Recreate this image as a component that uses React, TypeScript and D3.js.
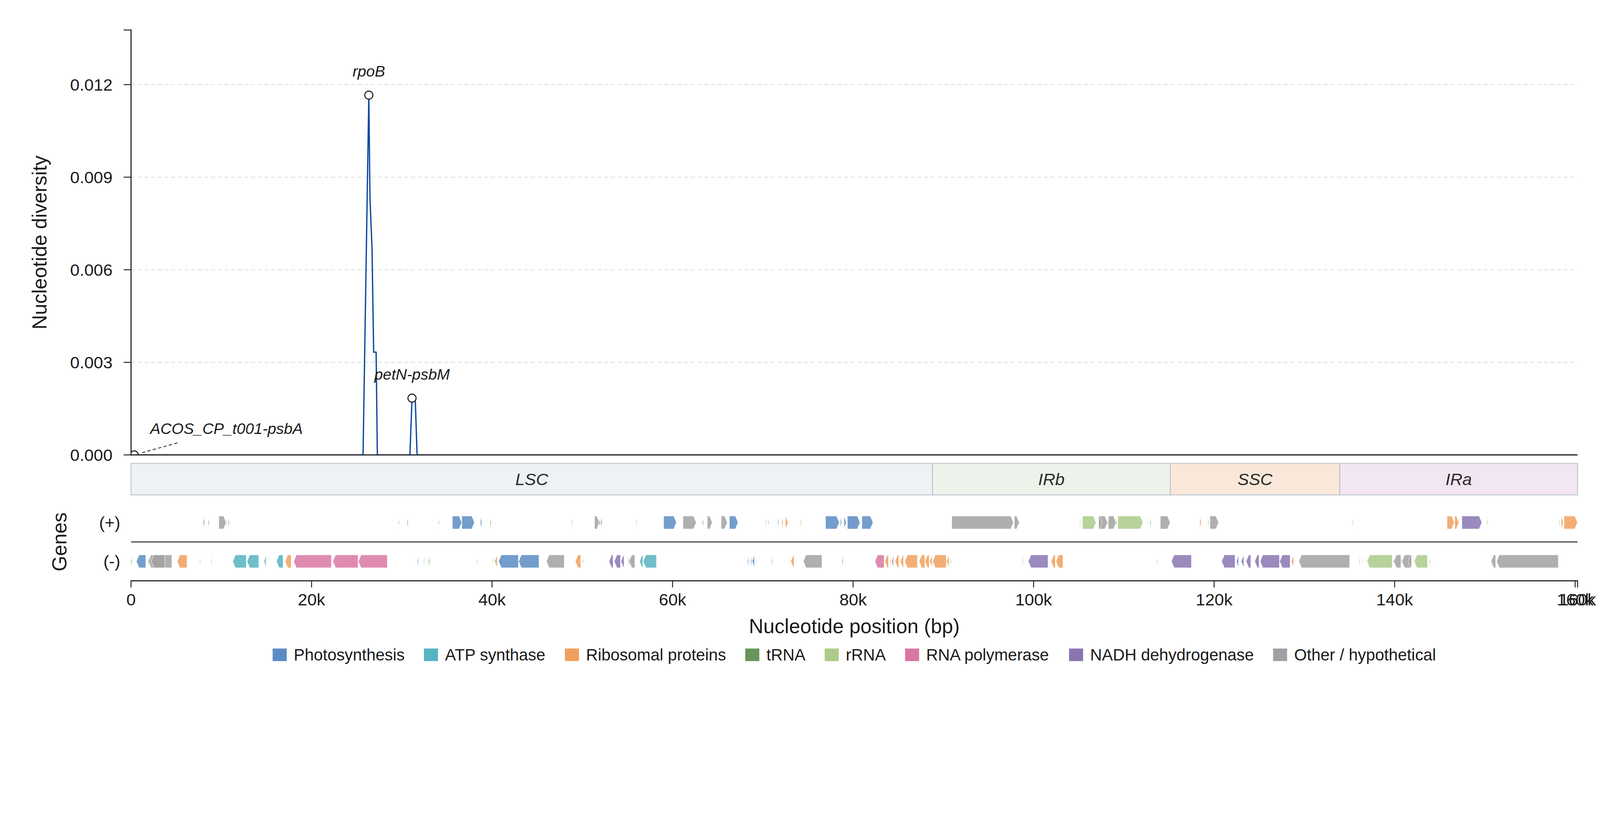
import React from 'react';
import * as d3 from 'd3';

// ---------------- DATA ----------------
const GENOME_LENGTH = 160275;

// nucleotide diversity (window midpoint, pi)
const divPos = [350, 25705, 26345, 26469, 26702, 26880, 27154, 27290, 30898, 31132, 31489, 31693, 160000];
const divPi = [0, 0, 0.01166, 0.00836, 0.00666, 0.00333, 0.00333, 0, 0, 0.00184, 0.0018, 0, 0];

// highlighted hotspots
const hotspotNames = ['ACOS_CP_t001-psbA', 'rpoB', 'petN-psbM'];
const hotspotPos = [350, 26345, 31132];
const hotspotPi = [0, 0.01166, 0.00184];

// quadripartite regions
const regionNames = ['LSC', 'IRb', 'SSC', 'IRa'];
const regionStarts = [0, 88800, 115150, 133920];
const regionEnds = [88800, 115150, 133920, GENOME_LENGTH];

// gene categories
const categoryKeys = ['PS', 'ATP', 'RP', 'TRNA', 'RRNA', 'POL', 'NDH', 'OTH'];
const categoryLabels = ['Photosynthesis', 'ATP synthase', 'Ribosomal proteins', 'tRNA', 'rRNA', 'RNA polymerase', 'NADH dehydrogenase', 'Other / hypothetical'];

// axis ticks
const yTicks = [0, 0.003, 0.006, 0.009, 0.012];
const xTicks = [0, 20000, 40000, 60000, 80000, 100000, 120000, 140000, 160000, GENOME_LENGTH];

// genes on (+) strand: [start, end, category]
const plusGenes: [number, number, string][] = [
  [8012, 8151, 'PS'], [8560, 8667, 'PS'], [9721, 10541, 'OTH'], [10500, 10582, 'TRNA'], [10775, 10880, 'TRNA'],
  [29643, 29725, 'TRNA'], [30599, 30709, 'PS'], [34072, 34154, 'TRNA'], [35603, 36642, 'PS'], [36642, 38051, 'PS'],
  [38720, 38884, 'PS'], [39786, 39896, 'TRNA'], [48839, 48921, 'TRNA'], [51353, 51901, 'OTH'], [51873, 51983, 'TRNA'],
  [52064, 52201, 'TRNA'], [55976, 56058, 'TRNA'], [59011, 60430, 'PS'], [61156, 62620, 'OTH'], [63317, 63426, 'PS'],
  [63851, 64398, 'OTH'], [65381, 66065, 'OTH'], [66297, 67257, 'PS'], [70317, 70400, 'PS'], [70592, 70674, 'PS'],
  [71656, 71766, 'PS'], [72095, 72259, 'RP'], [72505, 72805, 'RP'], [74187, 74294, 'RP'], [76948, 78466, 'PS'],
  [78589, 78726, 'PS'], [78999, 79245, 'PS'], [79368, 80775, 'PS'], [80980, 82211, 'PS'], [90934, 97770, 'OTH'],
  [97866, 98412, 'OTH'], [105113, 105195, 'TRNA'], [105414, 106919, 'RRNA'], [107207, 108192, 'OTH'], [107207, 107576, 'OTH'],
  [108216, 108298, 'TRNA'], [108290, 109151, 'OTH'], [109164, 109244, 'TRNA'], [109326, 112115, 'RRNA'], [112254, 112308, 'RRNA'],
  [112568, 112650, 'RRNA'], [112908, 113018, 'TRNA'], [114036, 115130, 'OTH'], [118417, 118581, 'RP'], [119331, 119413, 'TRNA'],
  [119537, 120497, 'OTH'], [135327, 135409, 'TRNA'], [145812, 146619, 'RP'], [146664, 147131, 'RP'], [147454, 149669, 'NDH'],
  [150238, 150324, 'TRNA'], [158217, 158303, 'TRNA'], [158459, 158697, 'RP'], [158773, 160262, 'RP'],
];

// genes on (-) strand: [start, end, category]
const minusGenes: [number, number, string][] = [
  [0, 110, 'TRNA'], [587, 1628, 'PS'], [1858, 1956, 'TRNA'], [1915, 4524, 'OTH'], [2228, 3733, 'OTH'],
  [4484, 4560, 'TRNA'], [5114, 6206, 'RP'], [7601, 7683, 'TRNA'], [8860, 8941, 'TRNA'], [11268, 12769, 'ATP'],
  [12851, 14151, 'ATP'], [14738, 14958, 'ATP'], [16107, 16846, 'ATP'], [17063, 17748, 'RP'], [18020, 22190, 'POL'],
  [22367, 25156, 'POL'], [25185, 28397, 'POL'], [31718, 31829, 'PS'], [32403, 32485, 'TRNA'], [32923, 33032, 'TRNA'],
  [33060, 33142, 'TRNA'], [38310, 38392, 'TRNA'], [40086, 40168, 'TRNA'], [40279, 40578, 'RP'], [40717, 42916, 'PS'],
  [42945, 45201, 'PS'], [46021, 48003, 'OTH'], [49220, 49823, 'RP'], [50041, 50123, 'TRNA'], [52954, 53405, 'NDH'],
  [53541, 54225, 'NDH'], [54279, 54621, 'NDH'], [55098, 55208, 'TRNA'], [55180, 55824, 'OTH'], [56344, 56713, 'ATP'],
  [56739, 58216, 'ATP'], [68293, 68404, 'PS'], [68568, 68650, 'PS'], [68703, 68814, 'PS'], [68841, 69075, 'PS'],
  [70864, 70946, 'TRNA'], [71028, 71110, 'TRNA'], [73093, 73448, 'RP'], [74487, 76551, 'OTH'], [78777, 78887, 'PS'],
  [82415, 83440, 'POL'], [83511, 83921, 'RP'], [84058, 84168, 'RP'], [84277, 84496, 'OTH'], [84646, 85056, 'RP'],
  [85232, 85588, 'RP'], [85725, 87133, 'RP'], [87311, 87953, 'RP'], [87966, 88431, 'RP'], [88486, 88759, 'RP'],
  [88814, 90319, 'RP'], [90346, 90620, 'RP'], [90784, 90866, 'TRNA'], [98753, 98835, 'TRNA'], [99413, 101599, 'NDH'],
  [101939, 102407, 'RP'], [102473, 103252, 'RP'], [113657, 113739, 'TRNA'], [115271, 117486, 'NDH'], [120836, 122325, 'NDH'],
  [122473, 122706, 'PS'], [122999, 123298, 'NDH'], [123544, 124065, 'NDH'], [124500, 124980, 'NDH'], [125102, 127235, 'NDH'],
  [127262, 128423, 'NDH'], [128560, 128806, 'RP'], [129381, 135017, 'OTH'], [136054, 136136, 'TRNA'], [136355, 136437, 'RRNA'],
  [136738, 136820, 'RRNA'], [136943, 139731, 'RRNA'], [139840, 139922, 'TRNA'], [139910, 140690, 'OTH'], [140690, 140776, 'TRNA'],
  [140810, 141870, 'OTH'], [141490, 141870, 'OTH'], [142170, 143640, 'RRNA'], [143870, 143960, 'TRNA'], [150680, 151200, 'OTH'],
  [151300, 158140, 'OTH'],
];

// ---------------- STYLE ----------------
const FONT = '"Liberation Sans", Arial, Helvetica, sans-serif';
const TEXT = '#1a1a1a';
const SPINE = '#262626';
const categoryColors: Record<string, string> = {
  PS: '#5a8cc3', ATP: '#56b3c1', RP: '#f0a05e', TRNA: '#66965a',
  RRNA: '#acca89', POL: '#d977a3', NDH: '#8a75b1', OTH: '#a1a1a1',
};
const regionFill = ['#eef2f5', '#edf2ea', '#f9e8da', '#f1e6f1'];
const regionEdge = '#b9c3cc';

function measure(text: string, font: string, fallbackPx: number) {
  try {
    const c = document.createElement('canvas').getContext('2d');
    if (c) { c.font = font; return c.measureText(text).width; }
  } catch (e) { /* ignore */ }
  return text.length * fallbackPx * 0.55;
}

export default function App() {
  const W = 4322, H = 2102;
  const left = 354, right = 4261.5;
  const yTop = 81, yBottom = 1229;
  const Y_MAX = 0.01377;

  const x = d3.scaleLinear().domain([0, GENOME_LENGTH]).range([left, right]);
  const y = d3.scaleLinear().domain([0, Y_MAX]).range([yBottom, yTop]);
  const gy = d3.scaleLinear().domain([-1, 1]).range([1569, 1359]);
  const bandTop = 1252, bandBottom = 1337;

  const fsTick = 45.8, fsLabel = 54.2, fsSmall = 41.7, fsLegend = 44.2;
  const tickLen = 20;

  const idx = d3.range(divPos.length);
  const linePath = d3.line<number>().x(i => x(divPos[i])).y(i => y(divPi[i]))(idx) || '';

  const HEAD_BP = 300;
  const geneHalf = 17.5;
  const genePath = (s: number, e: number, strand: number, yc: number) => {
    const x0 = x(s), x1 = x(e);
    const hl = Math.min(x(HEAD_BP) - x(0), x1 - x0);
    const h = geneHalf;
    if (strand > 0) {
      return `M${x0},${yc - h}L${x1 - hl},${yc - h}L${x1},${yc}L${x1 - hl},${yc + h}L${x0},${yc + h}Z`;
    }
    return `M${x1},${yc - h}L${x0 + hl},${yc - h}L${x0},${yc}L${x0 + hl},${yc + h}L${x1},${yc + h}Z`;
  };

  // legend layout
  const legendFont = `${fsLegend}px ${FONT}`;
  const patchW = 38, patchH = 34, patchPad = 19, colGap = 52;
  const widths = categoryLabels.map(l => measure(l, legendFont, fsLegend));
  const total = widths.reduce((a, w) => a + patchW + patchPad + w, 0) + colGap * (categoryLabels.length - 1);
  let lx = (left + right) / 2 - total / 2;
  const legendItems = categoryLabels.map((l, i) => {
    const item = { x: lx, w: widths[i], label: l, key: categoryKeys[i] };
    lx += patchW + patchPad + widths[i] + colGap;
    return item;
  });
  const legendY = 1769;

  const fmtX = (v: number) => (v === 0 ? '0' : `${Math.round(v / 1000)}k`);
  const fmtY = d3.format('.3f');

  return (
    <svg viewBox={`0 0 ${W} ${H}`} preserveAspectRatio="xMinYMin meet"
      style={{ position: 'fixed', left: 0, top: 0, width: '100vw', height: '100vh', display: 'block', background: '#fff' }}
      fontFamily={FONT}>
      <defs>
        <clipPath id="plotClip">
          <rect x={left} y={yTop} width={right - left} height={yBottom - yTop} />
        </clipPath>
      </defs>
      <rect x={0} y={0} width={W} height={H} fill="#fff" />

      {/* grid */}
      {yTicks.filter(t => t > 0).map(t => (
        <line key={`g${t}`} x1={left} x2={right} y1={y(t)} y2={y(t)} stroke="#d3d9df" strokeWidth={2} strokeDasharray="11,7" />
      ))}

      {/* diversity line + markers */}
      <g clipPath="url(#plotClip)">
        <path d={linePath} fill="none" stroke="#0d47a1" strokeWidth={3.5} strokeLinejoin="round" />
        {hotspotPos.map((p, i) => (
          <circle key={`m${i}`} cx={x(p)} cy={y(hotspotPi[i])} r={11} fill="#fff" stroke="#222" strokeWidth={2.8} />
        ))}
      </g>

      {/* hotspot labels */}
      {hotspotNames.map((n, i) => {
        const px = x(hotspotPos[i]), py = y(hotspotPi[i]);
        if (hotspotPi[i] > 0) {
          return (
            <text key={`l${i}`} x={px} y={py - 50} textAnchor="middle" fontStyle="italic" fontSize={fsSmall} fill={TEXT}>{n}</text>
          );
        }
        const tx = px + 43, ty = py - 57;
        const tw = measure(n, `italic ${fsSmall}px ${FONT}`, fsSmall);
        const cx = tx + tw / 2, cy = ty - 0.3 * fsSmall;
        const dx = px - cx, dy = py - cy;
        const halfW = tw / 2 + 12, halfH = 25 + 12;
        const t0 = Math.min(halfW / Math.abs(dx), halfH / Math.abs(dy));
        const len = Math.hypot(dx, dy);
        const t1 = 1 - 19 / len;
        return (
          <g key={`l${i}`}>
            <line x1={cx + dx * t0} y1={cy + dy * t0} x2={cx + dx * t1} y2={cy + dy * t1} stroke="#444" strokeWidth={2.6} strokeDasharray="9,6" />
            <text x={tx} y={ty} fontStyle="italic" fontSize={fsSmall} fill={TEXT}>{n}</text>
          </g>
        );
      })}

      {/* y axis */}
      <line x1={left} x2={left} y1={yTop} y2={yBottom} stroke={SPINE} strokeWidth={3} strokeLinecap="square" />
      <line x1={left} x2={right} y1={yBottom} y2={yBottom} stroke={SPINE} strokeWidth={3} />
      {[...yTicks, Y_MAX].map(t => (
        <line key={`yt${t}`} x1={left - tickLen} x2={left} y1={y(t)} y2={y(t)} stroke={SPINE} strokeWidth={2.6} />
      ))}
      {yTicks.map(t => (
        <text key={`yl${t}`} x={304} y={y(t)} dy="0.35em" textAnchor="end" fontSize={fsTick} fill={TEXT}>{fmtY(t)}</text>
      ))}
      <text transform={`translate(107,${(yTop + yBottom) / 2}) rotate(-90)`} textAnchor="middle" dy="0.35em" fontSize={fsLabel} fill={TEXT}>
        Nucleotide diversity
      </text>

      {/* regions */}
      {regionNames.map((r, i) => (
        <g key={r}>
          <rect x={x(regionStarts[i])} y={bandTop} width={x(regionEnds[i]) - x(regionStarts[i])} height={bandBottom - bandTop}
            fill={regionFill[i]} stroke={regionEdge} strokeWidth={2.4} />
          <text x={(x(regionStarts[i]) + x(regionEnds[i])) / 2} y={(bandTop + bandBottom) / 2} dy="0.35em" textAnchor="middle"
            fontStyle="italic" fontSize={fsTick} fill="#2a2a2a">{r}</text>
        </g>
      ))}

      {/* genes */}
      <line x1={left} x2={right} y1={gy(0)} y2={gy(0)} stroke={SPINE} strokeWidth={2.6} />
      {plusGenes.map((g, i) => (
        <path key={`p${i}`} d={genePath(g[0], g[1], 1, gy(0.5))} fill={categoryColors[g[2]]} fillOpacity={0.85}
          stroke="#fff" strokeOpacity={0.85} strokeWidth={1.2} />
      ))}
      {minusGenes.map((g, i) => (
        <path key={`n${i}`} d={genePath(g[0], g[1], -1, gy(-0.5))} fill={categoryColors[g[2]]} fillOpacity={0.85}
          stroke="#fff" strokeOpacity={0.85} strokeWidth={1.2} />
      ))}
      <text x={325} y={gy(0.5)} dy="0.35em" textAnchor="end" fontSize={fsTick} fill={TEXT}>(+)</text>
      <text x={325} y={gy(-0.5)} dy="0.35em" textAnchor="end" fontSize={fsTick} fill={TEXT}>(-)</text>
      <text transform={`translate(160,${gy(0)}) rotate(-90)`} textAnchor="middle" dy="0.35em" fontSize={fsLabel} fill={TEXT}>Genes</text>

      {/* x axis */}
      <line x1={left} x2={right} y1={gy(-1)} y2={gy(-1)} stroke={SPINE} strokeWidth={3} strokeLinecap="square" />
      {xTicks.map((t, i) => (
        <g key={`xt${i}`}>
          <line x1={x(t)} x2={x(t)} y1={gy(-1)} y2={gy(-1) + 18} stroke={SPINE} strokeWidth={2.6} />
          <text x={x(t)} y={1635} textAnchor="middle" fontSize={fsTick} fill={TEXT}>{fmtX(t)}</text>
        </g>
      ))}
      <text x={(left + right) / 2} y={1710} textAnchor="middle" fontSize={fsLabel} fill={TEXT}>Nucleotide position (bp)</text>

      {/* legend */}
      {legendItems.map(it => (
        <g key={it.key}>
          <rect x={it.x} y={legendY - patchH / 2} width={patchW} height={patchH} fill={categoryColors[it.key]} />
          <text x={it.x + patchW + patchPad} y={legendY} dy="0.35em" fontSize={fsLegend} fill={TEXT}>{it.label}</text>
        </g>
      ))}
    </svg>
  );
}
